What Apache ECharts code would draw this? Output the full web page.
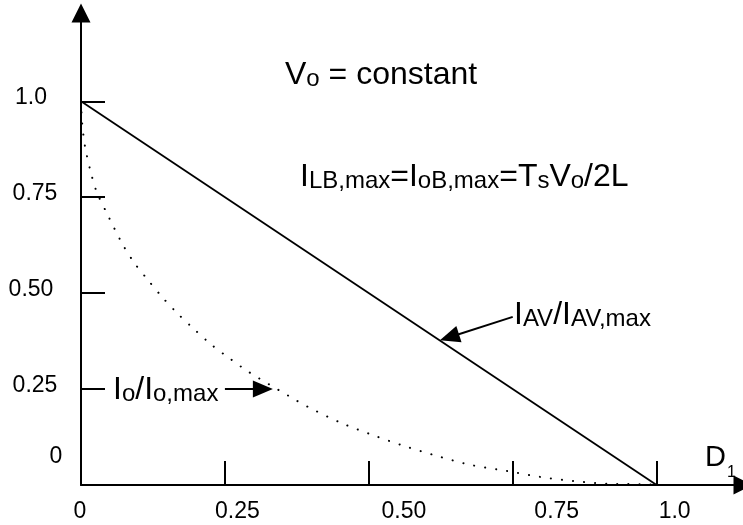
<!DOCTYPE html>
<html>
<head>
<meta charset="utf-8">
<title>Io/Io,max and IAV/IAV,max vs D1</title>
<script src="https://cdn.jsdelivr.net/npm/echarts@6.0.0/dist/echarts.min.js"></script>
<style>
  html, body { margin: 0; padding: 0; background: #fff; }
  #chart { width: 743px; height: 525px; }
</style>
</head>
<body>
<div id="chart"></div>
<script>
// axis ticks and their labels
const xTicks = [0, 0.25, 0.5, 0.75, 1];
const xTickLabels = ['0', '0.25', '0.50', '0.75', '1.0'];
const yTicks = [0, 0.25, 0.5, 0.75, 1];
const yTickLabels = ['0', '0.25', '0.50', '0.75', '1.0'];

// IAV/IAV,max : straight line
const iavD = [0, 1];
const iavValues = [1, 0];

// Io/Io,max : dotted curve
const ioD = [0, 0.002, 0.007, 0.016, 0.027, 0.045, 0.072, 0.093, 0.117, 0.142, 0.169, 0.198, 0.227, 0.259,
  0.292, 0.361, 0.395, 0.450, 0.507, 0.563, 0.620, 0.678, 0.738, 0.798, 0.858, 0.918, 0.976, 1.0];
const ioValues = [1.0, 0.943, 0.882, 0.821, 0.765, 0.708, 0.628, 0.578, 0.533, 0.488, 0.445, 0.404, 0.365, 0.329,
  0.294, 0.232, 0.203, 0.163, 0.130, 0.101, 0.075, 0.052, 0.037, 0.021, 0.010, 0.003, 0.002, 0];

// arrows from the labels to the curves (start, end) in axis units
const iavArrow = [[0.75, 0.438], [0.64, 0.385]];
const ioArrow = [[0.25, 0.25], [0.316, 0.25]];

const FONT = '"Liberation Sans", Arial, Helvetica, sans-serif';

// the tick labels are not centred on their ticks in the original -> shift them with padding
const xLabelPad = [[0, 2, 0, 0], [0, 0, 0, 25], [0, 0, 0, 70], [0, 0, 0, 88], [0, 0, 0, 36]];
const yLabelPad = [[0, 0, 56, 46], [0, 0, 7, 4], [0, 4, 7, 0], [0, 0, 7, 4], [0, 4, 7, 0]];

const xRich = {};
xLabelPad.forEach((p, i) => { xRich['x' + i] = { fontSize: 23, fontFamily: FONT, color: '#000', padding: p }; });
const yRich = {};
yLabelPad.forEach((p, i) => { yRich['y' + i] = { fontSize: 23, fontFamily: FONT, color: '#000', padding: p }; });

// big / small letters used in the notes
const noteRich = {
  b: { fontSize: 32, fontFamily: FONT, color: '#000' },
  s: { fontSize: 24, fontFamily: FONT, color: '#000', verticalAlign: 'bottom' }
};

const chart = echarts.init(document.getElementById('chart'), null, { renderer: 'canvas' });

const option = {
  animation: false,
  backgroundColor: '#fff',
  grid: { left: 81, right: 0, top: 13, bottom: 40, containLabel: false, outerBoundsMode: 'none' },
  xAxis: {
    type: 'value',
    min: 0,
    max: 1.15,
    splitLine: { show: false },
    axisLine: {
      lineStyle: { color: '#000', width: 2 },
      symbol: ['none', 'triangle'],
      symbolSize: [19, 19]
    },
    axisTick: {
      customValues: xTicks.slice(1),
      inside: true,
      length: 24,
      lineStyle: { color: '#000', width: 2 }
    },
    axisLabel: {
      customValues: xTicks,
      margin: 15,
      align: 'center',
      formatter: function (v) {
        const i = xTicks.indexOf(v);
        return '{x' + i + '|' + xTickLabels[i] + '}';
      },
      rich: xRich
    }
  },
  yAxis: {
    type: 'value',
    min: 0,
    max: 1.23,
    splitLine: { show: false },
    axisLine: {
      lineStyle: { color: '#000', width: 2 },
      symbol: ['none', 'triangle'],
      symbolSize: [19, 19]
    },
    axisTick: {
      customValues: yTicks.slice(1),
      inside: true,
      length: 24,
      lineStyle: { color: '#000', width: 2 }
    },
    axisLabel: {
      customValues: yTicks,
      margin: 48,
      align: 'center',
      formatter: function (v) {
        const i = yTicks.indexOf(v);
        return '{y' + i + '|' + yTickLabels[i] + '}';
      },
      rich: yRich
    }
  },
  series: [
    {
      name: 'IAV/IAV,max',
      type: 'line',
      data: iavD.map((d, i) => [d, iavValues[i]]),
      symbol: 'none',
      silent: true,
      lineStyle: { color: '#000', width: 1.8 },
      markLine: {
        silent: true,
        symbol: ['none', 'triangle'],
        symbolSize: [17, 20],
        label: { show: false },
        lineStyle: { color: '#000', width: 2, type: 'solid' },
        data: [[{ coord: iavArrow[0] }, { coord: iavArrow[1] }]]
      }
    },
    {
      name: 'Io/Io,max',
      type: 'line',
      data: ioD.map((d, i) => [d, ioValues[i]]),
      symbol: 'none',
      silent: true,
      smooth: 0.3,
      lineStyle: { color: '#000', width: 2, type: [0.1, 11], cap: 'round' },
      markLine: {
        silent: true,
        symbol: ['none', 'triangle'],
        symbolSize: [17, 20],
        label: { show: false },
        lineStyle: { color: '#000', width: 2, type: 'solid' },
        data: [[{ coord: ioArrow[0] }, { coord: ioArrow[1] }]]
      }
    }
  ],
  graphic: [
    { type: 'text', x: 285, y: 59, style: { text: '{b|V}{s|o}{b| = constant}', rich: noteRich, verticalAlign: 'top' } },
    { type: 'text', x: 300, y: 161, style: { text: '{b|I}{s|LB,max}{b|=I}{s|oB,max}{b|=T}{s|s}{b|V}{s|o}{b|/2L}', rich: noteRich, verticalAlign: 'top' } },
    { type: 'text', x: 514, y: 299, style: { text: '{b|I}{s|AV}{b|/I}{s|AV,max}', rich: noteRich, verticalAlign: 'top' } },
    { type: 'text', x: 113, y: 374, style: { text: '{b|I}{s|o}{b|/I}{s|o,max}', rich: noteRich, verticalAlign: 'top' } },
    // axis name D1
    { type: 'text', x: 705, y: 443, style: { text: 'D', fontSize: 29, fontFamily: FONT, fill: '#000', verticalAlign: 'top' } },
    { type: 'text', x: 727, y: 465, style: { text: '1', fontSize: 16, fontFamily: FONT, fill: '#000', verticalAlign: 'top' } }
  ]
};

chart.setOption(option);
</script>
</body>
</html>
